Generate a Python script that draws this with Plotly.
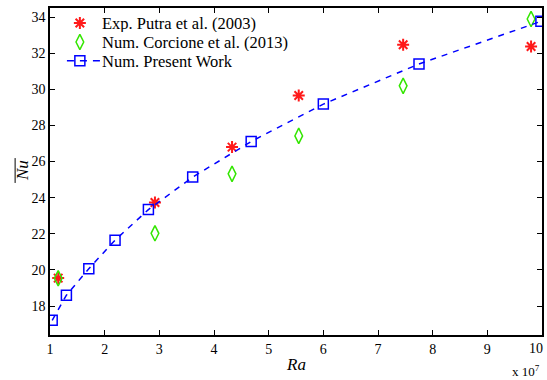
import plotly.graph_objects as go

# Rayleigh number (x 10^7) and mean Nusselt number
ra_putra = [1.15, 2.92, 4.33, 5.55, 7.46, 9.80]
nu_putra = [19.55, 23.73, 26.80, 29.66, 32.47, 32.37]

ra_corcione = [1.15, 2.92, 4.33, 5.55, 7.46, 9.80]
nu_corcione = [19.54, 22.03, 25.32, 27.42, 30.19, 33.89]

ra_present = [1.04, 1.30, 1.71, 2.19, 2.80, 3.61, 4.68, 6.00, 7.75, 9.98]
nu_present = [17.21, 18.60, 20.07, 21.65, 23.34, 25.14, 27.11, 29.18, 31.40, 33.76]

x_ticks = [1, 2, 3, 4, 5, 6, 7, 8, 9]
y_ticks = [18, 20, 22, 24, 26, 28, 30, 32, 34]

series_names = ["Exp. Putra et al. (2003)",
                "Num. Corcione et al. (2013)",
                "Num. Present Work"]

FONT = "Liberation Serif"
RED, GREEN, BLUE = "#ff1a1a", "#33e600", "#0000ff"

star = dict(symbol="asterisk-open", size=10, color=RED,
            line=dict(color=RED, width=2))
diamond = dict(symbol="diamond-tall-open", size=11, color=GREEN,
               line=dict(color=GREEN, width=1.5))
square = dict(symbol="square-open", size=10, color=BLUE,
              line=dict(color=BLUE, width=1.5))

fig = go.Figure()

fig.add_trace(go.Scatter(x=ra_putra, y=nu_putra, mode="markers",
                         name=series_names[0], marker=star))
fig.add_trace(go.Scatter(x=ra_corcione, y=nu_corcione, mode="markers",
                         name=series_names[1], marker=diamond))
fig.add_trace(go.Scatter(x=ra_present, y=nu_present, mode="lines+markers",
                         name=series_names[2], marker=square,
                         line=dict(color=BLUE, width=1.5, dash="6px,6px")))

# Legend keys, drawn on an overlay axis that spans the plot area as 0..1
key_x, key_x0, key_x1, text_x = 0.0607, 0.0344, 0.1032, 0.1012
row_y = [0.954, 0.896, 0.839]
fig.add_trace(go.Scatter(x=[key_x], y=[row_y[0]], mode="markers", marker=star,
                         xaxis="x2", yaxis="y2", hoverinfo="skip"))
fig.add_trace(go.Scatter(x=[key_x], y=[row_y[1]], mode="markers", marker=diamond,
                         xaxis="x2", yaxis="y2", hoverinfo="skip"))
fig.add_trace(go.Scatter(x=[key_x0, key_x1], y=[row_y[2], row_y[2]], mode="lines",
                         line=dict(color=BLUE, width=1.5, dash="7px,6px"),
                         xaxis="x2", yaxis="y2", hoverinfo="skip"))
fig.add_trace(go.Scatter(x=[key_x], y=[row_y[2]], mode="markers", marker=square,
                         xaxis="x2", yaxis="y2", hoverinfo="skip"))

axis_common = dict(
    showgrid=False, zeroline=False, showline=True, linecolor="black",
    linewidth=1.5, mirror="ticks", ticks="inside", ticklen=5,
    tickcolor="black", tickfont=dict(family=FONT, size=14, color="black"),
)

fig.update_layout(
    xaxis=dict(range=[1, 10], tickvals=x_ticks + [10],
               ticktext=[str(v) for v in x_ticks] + [""], **axis_common),
    yaxis=dict(range=[16.4, 34.5], tickvals=y_ticks,
               ticktext=[str(v) for v in y_ticks], **axis_common),
    xaxis2=dict(range=[0, 1], overlaying="x", visible=False),
    yaxis2=dict(range=[0, 1], overlaying="y", visible=False),
    width=547, height=380,
    margin=dict(l=50, r=3, t=8, b=45),
    plot_bgcolor="white", paper_bgcolor="white",
    font=dict(family=FONT, size=15, color="black"),
    showlegend=False,
)

annotations = [
    dict(text=name, xref="paper", yref="paper", x=text_x, y=y,
         xanchor="left", yanchor="middle", showarrow=False, height=18,
         font=dict(family=FONT, size=16.5))
    for name, y in zip(series_names, row_y)
]
annotations += [
    # last x tick label, kept inside the page
    dict(text="10", xref="paper", yref="paper", x=1.0061, y=-0.012,
         xanchor="right", yanchor="top", showarrow=False,
         font=dict(family=FONT, size=14)),
    dict(text="<i>Ra</i>", xref="paper", yref="paper", x=0.5, y=-0.056,
         xanchor="center", yanchor="top", showarrow=False,
         font=dict(family=FONT, size=17)),
    dict(text="<i>Nu</i>", xref="paper", yref="paper",
         x=-0.056, y=0.503, xanchor="center", yanchor="middle",
         textangle=-90, showarrow=False,
         font=dict(family=FONT, size=17)),
    dict(text="x 10<sup>7</sup>", xref="paper", yref="paper",
         x=1.0, y=-0.078, xanchor="right", yanchor="top",
         showarrow=False, font=dict(family=FONT, size=13)),
]
fig.update_layout(annotations=annotations)

# overbar on the Nu axis title
fig.add_shape(type="line", xref="paper", yref="paper",
              x0=-0.0709, x1=-0.0709, y0=0.465, y1=0.541,
              line=dict(color="black", width=1))

fig.write_html("out.html")
